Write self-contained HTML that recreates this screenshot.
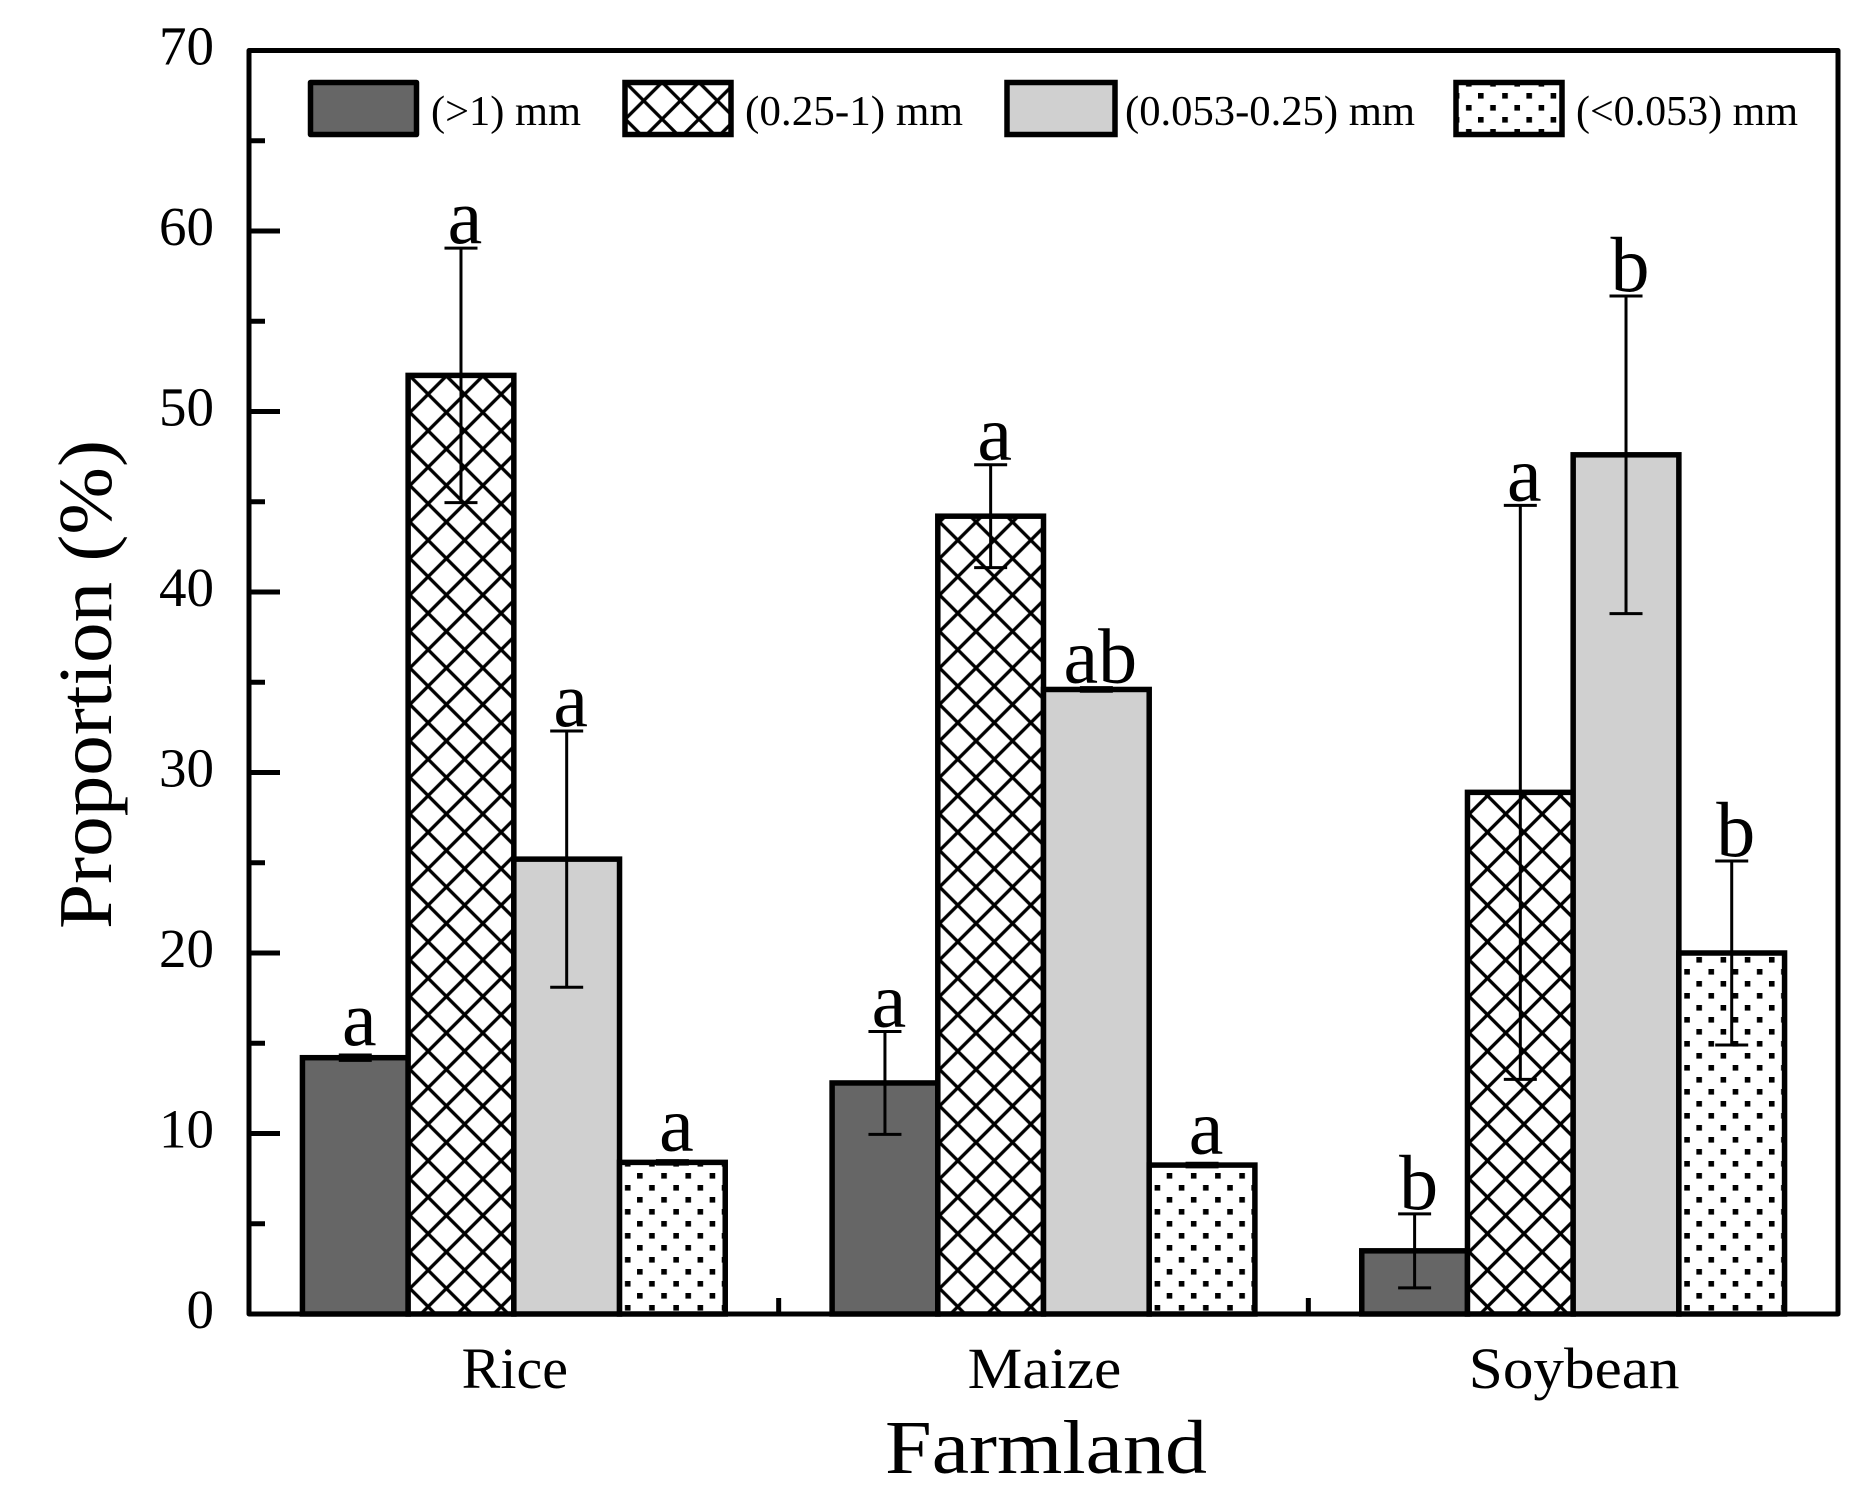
<!DOCTYPE html>
<html lang="en">
<head>
<meta charset="utf-8">
<title>Proportion by farmland</title>
<style>
html,body{margin:0;padding:0;background:#fff;}
svg{display:block;}
text{font-family:"Liberation Serif",serif;fill:#000;}
</style>
</head>
<body>
<svg id="chart" xmlns="http://www.w3.org/2000/svg" width="1875" height="1497" viewBox="0 0 1875 1497">
  <defs id="defs">
    <pattern id="legend-hatch" patternUnits="userSpaceOnUse" x="643.7" y="100.7" width="36.8" height="36.8">
      <path d="M-5,-5L41.8,41.8M41.8,-5L-5,41.8" stroke="#000" stroke-width="3.3" fill="none"/>
    </pattern>
    <pattern id="legend-dots" patternUnits="userSpaceOnUse" x="1478" y="93" width="24.2" height="24">
      <rect x="0" y="0" width="5.6" height="5.6" fill="#000"/>
      <rect x="-12" y="12" width="5.6" height="5.6" fill="#000"/>
      <rect x="12.2" y="12" width="5.6" height="5.6" fill="#000"/>
    </pattern>
  </defs>
  <rect x="0" y="0" width="1875" height="1497" fill="#fff"/>
  <g id="bars"></g>
  <g id="errors"></g>
  <g id="letters"></g>
  <g id="axes"></g>

  <g>
    <g>
      <rect x="310.5" y="82.5" width="106" height="52" fill="#666666" stroke="#000" stroke-width="5.5" stroke-linejoin="round"/>
      <text x="431" y="125" font-size="42" textLength="150" lengthAdjust="spacingAndGlyphs">(&gt;1) mm</text>
    </g>
    <g>
      <rect x="625" y="82.5" width="106" height="52" fill="#fff"/>
      <rect x="625" y="82.5" width="106" height="52" fill="url(#legend-hatch)" stroke="#000" stroke-width="5.5"/>
      <text x="745" y="125" font-size="42" textLength="218" lengthAdjust="spacingAndGlyphs">(0.25-1) mm</text>
    </g>
    <g>
      <rect x="1007" y="82.5" width="108" height="52" fill="#d0d0d0" stroke="#000" stroke-width="5.5"/>
      <text x="1125" y="125" font-size="42" textLength="290" lengthAdjust="spacingAndGlyphs">(0.053-0.25) mm</text>
    </g>
    <g>
      <rect x="1456" y="82.5" width="106" height="52" fill="#fff"/>
      <rect x="1456" y="82.5" width="106" height="52" fill="url(#legend-dots)" stroke="#000" stroke-width="5.5"/>
      <text x="1576" y="125" font-size="42" textLength="222" lengthAdjust="spacingAndGlyphs">(&lt;0.053) mm</text>
    </g>
  </g>

  <text transform="translate(111,929) rotate(-90)" x="0" y="0" font-size="76" textLength="489" lengthAdjust="spacingAndGlyphs">Proportion (%)</text>
  <text x="885" y="1473" font-size="76" textLength="322" lengthAdjust="spacingAndGlyphs">Farmland</text>
</svg>

<script>
const categories = ['Rice', 'Maize', 'Soybean'];
const seriesNames = ['gt-1mm', '0.25-1mm', '0.053-0.25mm', 'lt-0.053mm'];
const valuesGt1 = [14.2, 12.8, 3.5];
const values025to1 = [52.0, 44.2, 28.9];
const values0053to025 = [25.2, 34.6, 47.6];
const valuesLt0053 = [8.4, 8.25, 20.0];
const errorsGt1 = [0.15, 2.85, 2.05];
const errors025to1 = [7.05, 2.85, 15.9];
const errors0053to025 = [7.1, 0.1, 8.8];
const errorsLt0053 = [0.1, 0.1, 5.1];
const lettersGt1 = ['a', 'a', 'b'];
const letters025to1 = ['a', 'a', 'a'];
const letters0053to025 = ['a', 'ab', 'b'];
const lettersLt0053 = ['a', 'a', 'b'];
const yTickLabels = [0, 10, 20, 30, 40, 50, 60, 70];
const yMinorTicks = [5, 15, 25, 35, 45, 55, 65];

const seriesValues = [valuesGt1, values025to1, values0053to025, valuesLt0053];
const seriesErrors = [errorsGt1, errors025to1, errors0053to025, errorsLt0053];
const seriesLetters = [lettersGt1, letters025to1, letters0053to025, lettersLt0053];

const NS = 'http://www.w3.org/2000/svg';
const plotLeft = 249, plotRight = 1838, plotTop = 50.5, plotBottom = 1314;
const yMax = 70;
const bandWidth = (plotRight - plotLeft) / categories.length;
const barWidth = 105.7;
const categoryLabelStretch = { Rice: 1, Maize: 1.06, Soybean: 1.055 };

function yScale(v) { return plotBottom - (v / yMax) * (plotBottom - plotTop); }
function groupCenter(g) { return plotLeft + (g + 0.5) * bandWidth; }
function barLeft(g, s) { return groupCenter(g) + (s - 2) * barWidth; }

function make(tag, parent, attrs) {
  const el = document.createElementNS(NS, tag);
  Object.keys(attrs).forEach(function (k) { el.setAttribute(k, attrs[k]); });
  parent.appendChild(el);
  return el;
}

const defs = document.getElementById('defs');
const barsG = document.getElementById('bars');
const errorsG = document.getElementById('errors');
const lettersG = document.getElementById('letters');
const axesG = document.getElementById('axes');

function hatchPattern(id, left) {
  const p = make('pattern', defs, { id: id, patternUnits: 'userSpaceOnUse', x: left + 20, y: plotBottom - 7.3, width: 36.5, height: 36.5 });
  make('path', p, { d: 'M-5,-5L41.5,41.5M41.5,-5L-5,41.5', stroke: '#000', 'stroke-width': 3.3, fill: 'none' });
  return 'url(#' + id + ')';
}
function dotPattern(id, left) {
  const p = make('pattern', defs, { id: id, patternUnits: 'userSpaceOnUse', x: left + 17.5, y: plotBottom - 141, width: 24.2, height: 24 });
  make('rect', p, { x: 0, y: 0, width: 5.6, height: 5.6, fill: '#000' });
  make('rect', p, { x: -12.1, y: 12, width: 5.6, height: 5.6, fill: '#000' });
  make('rect', p, { x: 12.1, y: 12, width: 5.6, height: 5.6, fill: '#000' });
  return 'url(#' + id + ')';
}

categories.forEach(function (cat, g) {
  seriesValues.forEach(function (vals, s) {
    const left = barLeft(g, s);
    const top = yScale(vals[g]);
    const base = 'bar-' + cat.toLowerCase() + '-' + seriesNames[s];
    let fill = '#666666';
    if (s === 1) fill = hatchPattern('hatch-' + g, left);
    if (s === 2) fill = '#d0d0d0';
    if (s === 3) fill = dotPattern('dots-' + g, left);
    if (s === 1 || s === 3) {
      const under = make('rect', barsG, { x: left, y: top, width: barWidth, height: plotBottom - top, fill: '#fff' });
      
      
    }
    const bar = make('rect', barsG, { x: left, y: top, width: barWidth, height: plotBottom - top, fill: fill, stroke: '#000', 'stroke-width': 5.5 });
    
    

    const cx = left + barWidth / 2;
    const err = seriesErrors[s][g];
    const yHi = yScale(vals[g] + err);
    const yLo = yScale(vals[g] - err);
    const eb = make('path', errorsG, {
      d: 'M' + cx + ',' + yHi + 'V' + yLo + 'M' + (cx - 16.5) + ',' + yHi + 'H' + (cx + 16.5) + 'M' + (cx - 16.5) + ',' + yLo + 'H' + (cx + 16.5),
      stroke: '#000', 'stroke-width': 3, fill: 'none'
    });
    
    

    const lowBar = err < 0.5 && vals[g] < 20;
    const t = make('text', lettersG, { x: cx + 4, y: yHi - (lowBar ? 10 : 5), 'font-size': 78, 'text-anchor': 'middle' });
    t.textContent = seriesLetters[s][g];
    
    
  });
});

const frame = make('rect', axesG, { x: plotLeft, y: plotTop, width: plotRight - plotLeft, height: plotBottom - plotTop, fill: 'none', stroke: '#000', 'stroke-width': 5, 'stroke-linejoin': 'round' });



yTickLabels.forEach(function (v) {
  const y = yScale(v);
  if (v > 0 && v < yMax) {
    const tick = make('line', axesG, { x1: plotLeft, x2: plotLeft + 31, y1: y, y2: y, stroke: '#000', 'stroke-width': 5 });
    
    
  }
  const label = make('text', axesG, { x: 214, y: y + 14, 'font-size': 55, 'text-anchor': 'end' });
  label.textContent = String(v);
  
  
});

yMinorTicks.forEach(function (v) {
  const y = yScale(v);
  const tick = make('line', axesG, { x1: plotLeft, x2: plotLeft + 16, y1: y, y2: y, stroke: '#000', 'stroke-width': 5 });
  
  
});

categories.forEach(function (cat, g) {
  const label = make('text', axesG, { x: groupCenter(g) + 1, y: 1388, 'font-size': 58, 'text-anchor': 'middle' });
  label.textContent = cat;
  
  
  label.setAttribute('textLength', label.getComputedTextLength() * categoryLabelStretch[cat]);
  label.setAttribute('lengthAdjust', 'spacingAndGlyphs');
  if (g > 0) {
    const x = plotLeft + g * bandWidth;
    const tick = make('line', axesG, { x1: x, x2: x, y1: plotBottom, y2: plotBottom - 16, stroke: '#000', 'stroke-width': 5 });
    
    
  }
});
</script>
</body>
</html>
